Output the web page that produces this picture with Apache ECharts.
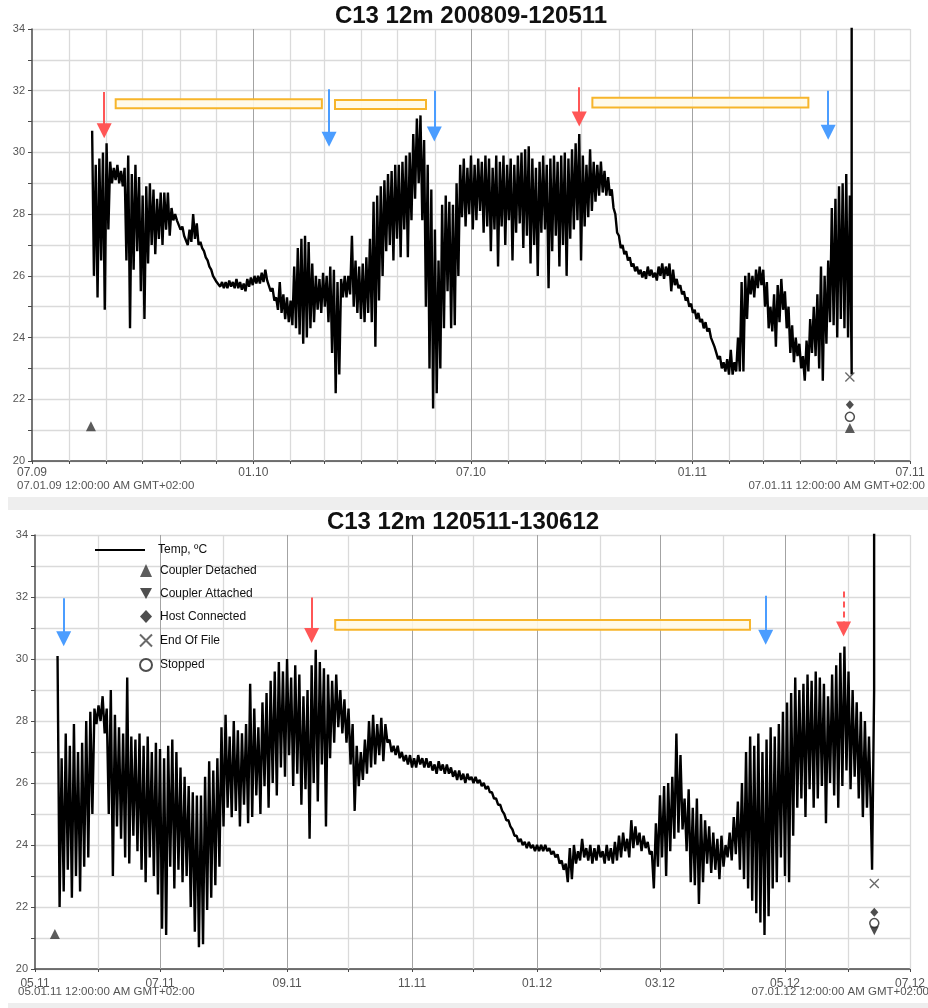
<!DOCTYPE html>
<html>
<head>
<meta charset="utf-8">
<title>C13 12m</title>
<script src="https://cdn.jsdelivr.net/npm/echarts@6.0.0/dist/echarts.min.js"></script>
<style>
html,body{margin:0;padding:0;background:#fff;}
#chart{width:928px;height:1008px;}
</style>
</head>
<body>
<div id="chart"></div>
<script>
// ---------------- texts ----------------
const topTitle = 'C13 12m 200809-120511';
const bottomTitle = 'C13 12m 120511-130612';
const topCaptionLeft = '07.01.09 12:00:00 AM GMT+02:00';
const topCaptionRight = '07.01.11 12:00:00 AM GMT+02:00';
const bottomCaptionLeft = '05.01.11 12:00:00 AM GMT+02:00';
const bottomCaptionRight = '07.01.12 12:00:00 AM GMT+02:00';
const seriesName = 'Temp, ºC';
const eventNames = ['Coupler Detached', 'Coupler Attached', 'Host Connected', 'End Of File', 'Stopped'];

// ---------------- axes ----------------
const topRange = ['2009-07-01', '2011-07-01'];
const topLabelDates = ['2009-07-01', '2010-01-01', '2010-07-01', '2011-01-01', '2011-07-01'];
const bottomRange = ['2011-05-01', '2012-07-01'];
const bottomLabelDates = ['2011-05-01', '2011-07-01', '2011-09-01', '2011-11-01', '2012-01-01', '2012-03-01', '2012-05-01', '2012-07-01'];
const yMin = 20, yMax = 34;

// ---------------- top logger record (daily high / low envelope read every 3 days) ----------------
const topStart = '2009-08-20';
const topStepDays = 3;
const topHigh = [
  30.7, 29.6, 29.8, 30.0, 30.3, 29.7, 29.5, 29.6, 29.4, 29.5,
  29.9, 29.3, 29.6, 29.2, 28.6, 28.9, 29.0, 28.8, 28.5, 28.7,
  28.7, 28.7, 28.2, 28.0, 27.8, 27.6, 27.3, 27.5, 28.0, 27.7,
  27.1, 26.8, 26.5, 26.2, 26.0, 25.85, 25.8, 25.8, 25.85, 25.8,
  25.9, 25.8, 25.75, 25.9, 25.95, 26.0, 26.0, 26.1, 26.2, 25.8,
  25.6, 25.3, 25.8, 25.4, 25.3, 25.2, 26.3, 26.9, 27.2, 27.3,
  27.1, 26.4, 26.0, 25.9, 26.1, 26.0, 26.3, 26.2, 25.8, 25.9,
  26.0, 26.0, 27.3, 26.5, 26.3, 26.4, 26.6, 27.2, 28.4, 28.6,
  28.9, 29.1, 29.3, 29.4, 29.6, 29.6, 29.7, 29.9, 30.0, 30.6,
  31.1, 31.2, 30.4, 29.6, 28.8, 27.5, 26.5, 28.3, 28.6, 28.4,
  28.3, 29.0, 29.6, 29.8, 29.5, 29.9, 29.6, 29.8, 29.7, 29.9,
  29.8, 29.5, 29.9, 29.7, 29.9, 29.6, 29.8, 29.6, 29.9, 30.0,
  30.1, 30.2, 29.8, 29.5, 29.7, 29.9, 29.6, 29.8, 29.9, 29.7,
  29.9, 30.0, 29.8, 30.1, 30.3, 30.6, 29.9, 29.6, 30.1, 29.7,
  29.6, 29.7, 29.4, 29.2, 28.8, 28.0, 27.3, 27.0, 26.8, 26.6,
  26.4, 26.3, 26.2, 26.15, 26.3, 26.2, 26.1, 26.3, 26.4, 26.3,
  26.4, 26.2, 25.9, 25.7, 25.5, 25.3, 25.1, 24.9, 24.8, 24.6,
  24.5, 24.3, 24.0, 23.7, 23.4, 23.2, 23.3, 23.6, 23.2, 24.0,
  25.8, 26.0, 26.1, 26.0, 26.2, 26.3, 26.2, 25.8, 25.0, 25.4,
  25.7, 25.9, 25.5, 25.0, 24.4, 24.0, 23.8, 23.4, 23.9, 24.6,
  25.0, 25.4, 26.3, 26.0, 26.5, 28.2, 28.5, 28.9, 29.0, 29.3, 28.6
];
const topLow = [
  26.0, 25.3, 26.5, 24.9, 27.5, 29.0, 29.1, 29.0, 28.9, 26.5,
  24.3, 26.2, 26.8, 25.5, 24.6, 26.4, 27.0, 26.7, 27.2, 27.0,
  27.5, 27.3, 27.8, 27.8, 27.5, 27.3, 27.0, 27.1, 27.2, 27.0,
  26.9, 26.6, 26.3, 26.0, 25.8, 25.65, 25.6, 25.6, 25.65, 25.6,
  25.6, 25.55, 25.5, 25.65, 25.7, 25.75, 25.75, 25.8, 25.85, 25.5,
  25.2, 24.9, 24.8, 24.6, 24.5, 24.4, 24.3, 24.1, 23.8, 24.0,
  24.3, 24.5, 24.9, 24.8, 25.0, 24.5, 23.5, 22.2, 22.8, 25.3,
  25.3, 25.4, 25.0, 24.8, 24.6, 24.5, 24.8, 24.5, 23.7, 25.2,
  26.0, 26.8, 27.0, 26.5, 27.2, 26.6, 27.5, 26.6, 27.8, 28.5,
  29.0, 27.8, 25.0, 23.0, 21.7, 22.2, 23.0, 24.3, 25.5, 24.3,
  24.4, 26.0, 27.9, 27.6, 28.0, 27.5, 27.8, 28.1, 27.4, 27.6,
  26.8, 27.5, 26.3, 27.6, 27.0, 27.8, 26.5, 27.4, 27.7, 26.9,
  27.3, 26.4, 27.0, 26.0, 27.4, 27.5, 25.6, 26.8, 27.3, 26.3,
  27.0, 26.0, 27.2, 27.5, 27.8, 26.5, 27.6, 27.9, 28.1, 28.4,
  28.6, 28.7, 28.6, 28.6, 28.2, 27.4, 26.9, 26.7, 26.5, 26.3,
  26.15, 26.05, 25.95, 25.9, 26.0, 25.95, 25.85, 26.0, 25.9, 26.0,
  25.5, 25.7, 25.6, 25.4, 25.2, 25.0, 24.8, 24.6, 24.5, 24.3,
  24.2, 24.0, 23.7, 23.3, 23.0, 22.9, 22.8, 22.8, 22.9, 22.9,
  22.9, 24.6, 25.4, 25.3, 25.6, 25.7, 25.0, 24.3, 24.2, 23.7,
  24.5, 24.9, 24.3, 23.5, 23.2, 23.4, 23.0, 22.6, 22.9, 23.5,
  23.4, 23.0, 22.6, 23.8, 24.5, 24.4, 24.0, 24.6, 24.3, 24.0, 22.8
];
const topTailValue = 40;   // logger lifted out of the water: reading runs off the top

// ---------------- bottom logger record (daily high / low envelope read every 2 days) ----------------
const bottomStart = '2011-05-12';
const bottomStepDays = 2;
const bottomHigh = [
  30.1, 26.8, 27.6, 27.2, 27.9, 27.0, 27.3, 28.0, 28.3, 28.4,
  28.5, 28.8, 28.4, 29.0, 28.2, 27.8, 27.6, 29.4, 27.5, 27.4,
  27.6, 27.2, 27.5, 27.0, 27.3, 27.1, 26.8, 27.2, 27.4, 27.0,
  26.5, 26.2, 25.9, 25.7, 25.6, 25.6, 26.2, 26.7, 26.4, 26.8,
  27.8, 28.2, 27.5, 28.0, 27.7, 27.6, 27.9, 29.2, 28.4, 27.8,
  28.6, 28.9, 29.3, 29.6, 29.9, 29.6, 30.0, 29.4, 29.8, 29.5,
  28.8, 29.0, 29.8, 30.3, 29.9, 29.7, 29.5, 29.3, 29.5, 29.0,
  28.7, 28.4, 27.9, 27.2, 27.0, 27.4, 28.0, 28.2, 27.9, 28.1,
  27.9, 27.4, 27.2, 27.2, 27.0, 26.9, 26.9, 26.8, 26.9, 26.8,
  26.8, 26.7, 26.6, 26.7, 26.6, 26.6, 26.5, 26.4, 26.4, 26.3,
  26.3, 26.2, 26.2, 26.1, 26.0, 25.9, 25.7, 25.5, 25.3, 25.0,
  24.8, 24.5, 24.3, 24.2, 24.1, 24.1, 24.0, 24.0, 24.0, 24.0,
  23.9, 23.8, 23.7, 23.5, 23.4, 23.9, 24.0, 23.8, 24.2, 23.9,
  24.0, 23.9, 24.0, 23.8, 24.0, 23.9, 24.1, 24.3, 24.4, 24.2,
  24.8, 24.6, 24.4, 24.3, 24.1, 23.8, 24.7, 25.6, 25.9, 26.0,
  26.2, 27.6, 26.9, 25.5, 25.8, 25.2, 25.5, 25.0, 24.8, 24.6,
  24.4, 24.2, 24.3, 24.0, 24.4, 24.9, 25.4, 26.0, 27.0, 27.5,
  27.2, 27.6, 27.0, 27.4, 27.8, 27.5, 27.9, 28.3, 28.6, 28.9,
  29.4, 29.0, 29.2, 29.5, 29.3, 29.6, 29.4, 29.2, 28.8, 29.5,
  29.8, 30.2, 30.4, 29.6, 29.0, 28.6, 28.3, 28.0, 27.5
];
const bottomLow = [
  22.0, 22.5, 23.2, 22.3, 23.0, 22.5, 23.3, 23.6, 25.0, 27.9,
  28.0, 27.6, 25.0, 23.0, 24.6, 24.2, 23.6, 23.4, 24.3, 23.8,
  23.2, 22.8, 23.6, 23.0, 22.4, 21.3, 21.1, 23.3, 22.6, 23.2,
  22.8, 23.0, 22.0, 21.2, 20.7, 20.8, 21.9, 22.3, 22.7, 23.3,
  24.6, 25.2, 24.9, 25.1, 24.6, 25.3, 24.7, 24.9, 25.6, 25.0,
  25.9, 25.2, 26.0, 25.6, 26.5, 26.2, 26.9, 25.9, 26.3, 25.3,
  25.8, 24.2, 26.0, 25.4, 26.6, 24.6, 26.8, 27.3, 27.8, 27.6,
  27.3, 26.6, 25.1, 25.9, 26.1, 26.3, 26.5, 26.6, 26.9, 26.7,
  27.3, 27.0, 26.9, 26.8, 26.7, 26.6, 26.5, 26.5, 26.6, 26.5,
  26.5, 26.4, 26.3, 26.4, 26.3, 26.3, 26.2, 26.1, 26.1, 26.0,
  26.1, 26.0, 26.0, 25.9, 25.8, 25.7, 25.5, 25.3, 25.1, 24.8,
  24.6, 24.3, 24.1, 24.0, 23.9, 23.9, 23.8, 23.8, 23.8, 23.8,
  23.7, 23.6, 23.4, 23.2, 22.8, 22.9, 23.4, 23.5, 23.6, 23.5,
  23.4, 23.5, 23.6, 23.4, 23.5, 23.4, 23.5, 23.6, 23.8, 23.6,
  23.9, 24.0, 23.8, 23.9, 23.7, 22.6, 23.3, 23.6, 23.0, 23.8,
  24.2, 24.4, 24.5, 23.8, 22.8, 22.7, 22.1, 22.8, 23.4, 23.1,
  23.2, 22.9, 23.3, 23.6, 23.5, 23.7, 23.2, 22.9, 22.6, 22.2,
  21.8, 21.5, 21.1, 21.7, 22.6, 22.8, 23.6, 23.0, 22.8, 24.3,
  25.2, 25.5, 24.9, 25.8, 25.2, 25.5, 25.9, 24.7, 26.0, 25.6,
  25.2, 25.9, 26.4, 25.8, 26.2, 25.5, 24.9, 25.2, 24.8
];
const bottomTailDates = ['2012-06-12T12:00', '2012-06-13T12:00', '2012-06-13T12:00'];
const bottomTailValues = [23.2, 29.0, 40];

// ---------------- logger events ----------------
const topDetached = [['2009-08-19', 21.13], ['2011-05-12', 21.07]];
const topHost = [['2011-05-12', 21.82]];
const topEof = [['2011-05-12', 22.72]];
const topStopped = [['2011-05-12', 21.43]];
const bottomDetached = [['2011-05-10T17:00', 21.13]];
const bottomAttached = [['2012-06-13T14:00', 21.23]];
const bottomHost = [['2012-06-13T14:00', 21.83]];
const bottomEof = [['2012-06-13T14:00', 22.76]];
const bottomStopped = [['2012-06-13T14:00', 21.48]];

// ---------------- annotations (arrows: shaft top / arrow-head centre; boxes: corners) ----------------
const topArrowDates = ['2009-08-30', '2010-03-05', '2010-05-31T12:00', '2010-09-29', '2011-04-24'];
const topArrowFrom = [31.96, 32.05, 32.00, 32.11, 32.00];
const topArrowHead = [30.70, 30.43, 30.60, 31.08, 30.65];
const topArrowKind = ['red', 'blue', 'blue', 'red', 'blue'];
const topBoxStart = ['2009-09-08T14:00', '2010-03-09T22:00', '2010-10-09T22:00'];
const topBoxEnd = ['2010-02-27', '2010-05-24T14:00', '2011-04-07T12:00'];
const topBoxHigh = [31.72, 31.70, 31.77];
const topBoxLow = [31.43, 31.41, 31.46];

const bottomArrowDates = ['2011-05-15', '2011-09-13', '2012-04-21T14:00', '2012-05-29T14:00'];
const bottomArrowFrom = [31.96, 31.98, 32.04, 32.18];
const bottomArrowHead = [30.65, 30.76, 30.70, 30.97];
const bottomArrowKind = ['blue', 'red', 'blue', 'red-dashed'];
const bottomBoxStart = ['2011-09-24T12:00'];
const bottomBoxEnd = ['2012-04-13T22:00'];
const bottomBoxHigh = [31.26];
const bottomBoxLow = [30.94];

// ---------------- helpers ----------------
const DAY = 86400000;
function ts(s) {
  const parts = s.split('T');
  const d = parts[0].split('-').map(Number);
  let h = 0, mi = 0;
  if (parts[1]) { const t = parts[1].split(':').map(Number); h = t[0]; mi = t[1]; }
  return new Date(d[0], d[1] - 1, d[2], h, mi).getTime();
}
function envelope(start, stepDays, hi, lo) {
  const out = [];
  const t0 = ts(start);
  for (let i = 0; i < hi.length; i++) {
    const t = t0 + i * stepDays * DAY;
    out.push([t, hi[i]]);
    out.push([t + stepDays * DAY / 2, lo[i]]);
  }
  return out;
}
function monthTicks(range) {
  const a = new Date(ts(range[0])), b = ts(range[1]);
  const out = [];
  for (let k = 0; ; k++) {
    const t = new Date(a.getFullYear(), a.getMonth() + k, 1).getTime();
    if (t > b) break;
    out.push(t);
  }
  return out;
}
function fmtMonth(v) {
  const d = new Date(v);
  return String(d.getMonth() + 1).padStart(2, '0') + '.' + String(d.getFullYear() % 100).padStart(2, '0');
}
const pts = arr => arr.map(p => [ts(p[0]), p[1]]);

const topData = envelope(topStart, topStepDays, topHigh, topLow);
topData.push([topData[topData.length - 1][0], topTailValue]);
const bottomData = envelope(bottomStart, bottomStepDays, bottomHigh, bottomLow);
bottomTailDates.forEach((d, i) => bottomData.push([ts(d), bottomTailValues[i]]));

const FONT = '"Liberation Sans", Arial, Helvetica, sans-serif';
const RED = '#ff5656', BLUE = '#4b9dff', GOLD = '#f7b52b';
const MINOR = '#dadada', MAJOR = '#a3a3a3';

function gridLineSeries(idx, range, labelDates) {
  const majors = labelDates.slice(1, -1).map(ts);
  return {
    type: 'line', name: 'grid' + idx, xAxisIndex: idx, yAxisIndex: idx, data: [],
    silent: true, symbol: 'none',
    markLine: {
      silent: true, z: 1, symbol: 'none', animation: false,
      label: { show: false }, emphasis: { disabled: true },
      data: monthTicks(range).slice(1).map(t => ({
        xAxis: t,
        lineStyle: majors.indexOf(t) >= 0 ? { color: MAJOR, width: 1, type: 'solid' } : { color: MINOR, width: 1.3, type: 'solid' }
      }))
    }
  };
}
function annotationSeries(idx, dates, from, head, kind, bs, be, bh, bl) {
  return {
    type: 'line', name: 'notes' + idx, xAxisIndex: idx, yAxisIndex: idx, data: [],
    silent: true, symbol: 'none',
    markLine: {
      silent: true, z: 6, animation: false, symbol: ['none', 'triangle'], symbolSize: 15,
      label: { show: false }, emphasis: { disabled: true },
      data: dates.map((d, i) => {
        const col = kind[i].indexOf('red') === 0 ? RED : BLUE;
        const ls = { color: col, width: 2, type: kind[i].indexOf('dashed') > 0 ? [6, 4] : 'solid' };
        return [
          { coord: [ts(d), from[i]], lineStyle: ls, itemStyle: { color: col } },
          { coord: [ts(d), head[i]], lineStyle: ls, itemStyle: { color: col } }
        ];
      })
    },
    markArea: {
      silent: true, z: 5, animation: false, label: { show: false }, emphasis: { disabled: true },
      itemStyle: { color: 'rgba(255,250,232,0.9)', borderColor: GOLD, borderWidth: 2 },
      data: bs.map((d, i) => [{ coord: [ts(d), bh[i]] }, { coord: [ts(be[i]), bl[i]] }])
    }
  };
}
const symbols = {
  'Coupler Detached': { symbol: 'triangle', size: 10, style: { color: '#333' } },
  'Coupler Attached': { symbol: 'path://M0,0L10,0L5,9Z', size: 9, style: { color: '#222' } },
  'Host Connected': { symbol: 'diamond', size: [8, 9], style: { color: '#222' } },
  'End Of File': { symbol: 'path://M0,0L10,10M10,0L0,10', size: 9, style: { color: 'rgba(0,0,0,0)', borderColor: '#444', borderWidth: 1.3 } },
  'Stopped': { symbol: 'circle', size: 9, style: { color: '#ffffff', borderColor: '#222', borderWidth: 1.5 } }
};
function eventSeries(idx, name, data) {
  const s = symbols[name];
  return {
    type: 'scatter', name: name, xAxisIndex: idx, yAxisIndex: idx, z: 7,
    symbol: s.symbol, symbolSize: s.size, itemStyle: s.style,
    data: pts(data), silent: true
  };
}
function xAxisFor(idx, range, labelDates, margin) {
  return {
    type: 'value', gridIndex: idx, min: ts(range[0]), max: ts(range[1]), scale: true,
    axisLine: { show: true, onZero: false, lineStyle: { color: '#4a4a4a', width: 1.5 } },
    axisTick: { show: true, length: 3, customValues: monthTicks(range), lineStyle: { color: '#4a4a4a', width: 1 } },
    axisLabel: {
      customValues: labelDates.map(ts), formatter: fmtMonth, color: '#555', fontSize: 12,
      fontFamily: FONT, margin: margin, showMinLabel: true, showMaxLabel: true, hideOverlap: false
    },
    splitLine: { show: false }
  };
}
function yAxisFor(idx) {
  return {
    type: 'value', gridIndex: idx, min: yMin, max: yMax, interval: 1,
    axisLine: { show: true, lineStyle: { color: '#4a4a4a', width: 1.5 } },
    axisTick: { show: true, length: 4, lineStyle: { color: '#4a4a4a' } },
    axisLabel: { formatter: v => (v % 2 === 0 ? String(v) : ''), color: '#555', fontSize: 11, fontFamily: FONT, margin: 7 },
    splitLine: { show: true, lineStyle: { color: MINOR, width: 1.3 } }
  };
}

const LINE_W = 2.4;
const chart = echarts.init(document.getElementById('chart'), null, { renderer: 'canvas' });
chart.setOption({
  animation: false,
  backgroundColor: '#ffffff',
  textStyle: { fontFamily: FONT },
  grid: [
    { left: 32, top: 29, width: 878, height: 432, containLabel: false },
    { left: 35, top: 535, width: 880, height: 434, containLabel: false }
  ],
  xAxis: [xAxisFor(0, topRange, topLabelDates, 6), xAxisFor(1, bottomRange, bottomLabelDates, 9)],
  yAxis: [yAxisFor(0), yAxisFor(1)],
  legend: [
    {
      data: [{ name: seriesName, icon: 'rect' }], left: 95, top: 544, padding: 0,
      itemWidth: 50, itemHeight: 2, selectedMode: false,
      textStyle: { fontSize: 12, color: '#111', fontFamily: FONT, padding: [0, 0, 0, 8] }
    },
    {
      data: eventNames, orient: 'vertical', left: 139, top: 564, padding: 0,
      itemWidth: 12, itemHeight: 13, itemGap: 10.5, selectedMode: false,
      textStyle: { fontSize: 12, color: '#111', fontFamily: FONT, padding: [0, 0, 0, 3] }
    }
  ],
  graphic: [
    { type: 'rect', shape: { x: 8, y: 497, width: 920, height: 13 }, style: { fill: '#eeeeee' }, silent: true, z: -1 },
    { type: 'rect', shape: { x: 8, y: 1003, width: 920, height: 5 }, style: { fill: '#eeeeee' }, silent: true, z: -1 },
    { type: 'text', x: 471, y: 16, style: { text: topTitle, font: 'bold 24px ' + FONT, textAlign: 'center', textVerticalAlign: 'middle', fill: '#111' } },
    { type: 'text', x: 463, y: 522, style: { text: bottomTitle, font: 'bold 24px ' + FONT, textAlign: 'center', textVerticalAlign: 'middle', fill: '#111' } },
    { type: 'text', x: 17, y: 486, style: { text: topCaptionLeft, font: '11.5px ' + FONT, textAlign: 'left', textVerticalAlign: 'middle', fill: '#555' } },
    { type: 'text', x: 925, y: 486, style: { text: topCaptionRight, font: '11.5px ' + FONT, textAlign: 'right', textVerticalAlign: 'middle', fill: '#555' } },
    { type: 'text', x: 18, y: 992, style: { text: bottomCaptionLeft, font: '11.5px ' + FONT, textAlign: 'left', textVerticalAlign: 'middle', fill: '#555' } },
    { type: 'text', x: 929, y: 992, style: { text: bottomCaptionRight, font: '11.5px ' + FONT, textAlign: 'right', textVerticalAlign: 'middle', fill: '#555' } }
  ],
  series: [
    gridLineSeries(0, topRange, topLabelDates),
    gridLineSeries(1, bottomRange, bottomLabelDates),
    {
      type: 'line', name: seriesName, xAxisIndex: 0, yAxisIndex: 0, z: 3, data: topData,
      symbol: 'none', showSymbol: false, clip: true,
      lineStyle: { color: '#000', width: LINE_W, join: 'bevel' }, itemStyle: { color: '#000' }, silent: true
    },
    {
      type: 'line', name: seriesName, xAxisIndex: 1, yAxisIndex: 1, z: 3, data: bottomData,
      symbol: 'none', showSymbol: false, clip: true,
      lineStyle: { color: '#000', width: LINE_W, join: 'bevel' }, itemStyle: { color: '#000' }, silent: true
    },
    annotationSeries(0, topArrowDates, topArrowFrom, topArrowHead, topArrowKind, topBoxStart, topBoxEnd, topBoxHigh, topBoxLow),
    annotationSeries(1, bottomArrowDates, bottomArrowFrom, bottomArrowHead, bottomArrowKind, bottomBoxStart, bottomBoxEnd, bottomBoxHigh, bottomBoxLow),
    eventSeries(0, 'Coupler Detached', topDetached),
    eventSeries(0, 'Host Connected', topHost),
    eventSeries(0, 'End Of File', topEof),
    eventSeries(0, 'Stopped', topStopped),
    eventSeries(1, 'Coupler Detached', bottomDetached),
    eventSeries(1, 'Coupler Attached', bottomAttached),
    eventSeries(1, 'Host Connected', bottomHost),
    eventSeries(1, 'End Of File', bottomEof),
    eventSeries(1, 'Stopped', bottomStopped)
  ]
});
</script>
</body>
</html>
